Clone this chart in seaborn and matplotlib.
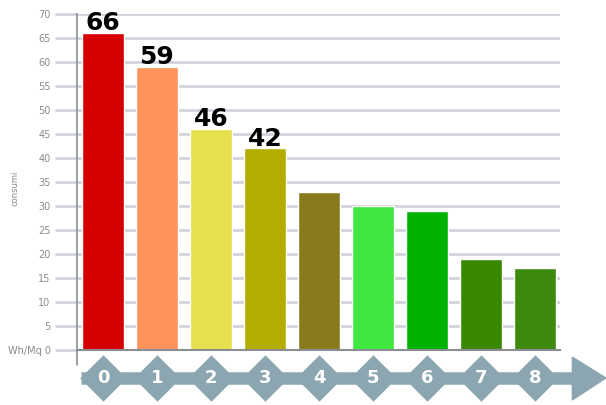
import matplotlib
matplotlib.use("Agg")
import matplotlib.pyplot as plt
from matplotlib.patches import Polygon
import seaborn as sns
import pandas as pd

categories = ["0", "1", "2", "3", "4", "5", "6", "7", "8"]
values = [66, 59, 46, 42, 33, 30, 29, 19, 17]
labelled = ["66", "59", "46", "42", "", "", "", "", ""]
colors = ["#d60000", "#ff935a", "#e6e04c", "#b3ad00", "#877b1e",
          "#3fe83f", "#00b300", "#3a8800", "#3e8a0e"]
yticks = [0, 5, 10, 15, 20, 25, 30, 35, 40, 45, 50, 55, 60, 65, 70]
ytick_labels = ["Wh/Mq 0"] + [str(v) for v in yticks[1:]]

sns.set_theme(style="white")
plt.rcParams['font.family'] = ['DejaVu Sans']

df = pd.DataFrame({"cat": categories, "val": values})
fig = plt.figure(figsize=(6.06, 4.05), dpi=100)
ax = fig.add_axes([0.127, 0.1358, 0.797, 0.8296])

sns.barplot(data=df, x="cat", y="val", hue="cat", palette=colors,
            legend=False, width=0.78, saturation=1, ax=ax, zorder=2)

ax.set_xlim(-0.48, 8.46)
ax.set_ylim(0, 70)
ax.set_yticks(yticks)
ax.set_yticklabels(ytick_labels)
ax.yaxis.grid(True, color="#d0d4da", linewidth=2)
ax.set_axisbelow(True)
ax.tick_params(axis="y", length=16, width=2, color="#d0d4da",
               labelsize=7, labelcolor="#8a8a8a", pad=3, left=True)
t0 = ax.yaxis.get_major_ticks()[0]
t0.tick1line.set_color("#8a8e94")
ax.tick_params(axis="x", length=0, labelbottom=False)
ax.set_xlabel("")
ax.set_ylabel("consumi", fontsize=6, color="#8a8a8a")
ax.yaxis.set_label_coords(-0.118, 0.48)
for s in ["top", "right"]:
    ax.spines[s].set_visible(False)
ax.spines["left"].set_color("#8a8e94")
ax.spines["left"].set_linewidth(1.2)
ax.spines["bottom"].set_color("#8a8e94")
ax.spines["bottom"].set_linewidth(1.5)
# extend left axis a bit below 0
ax.plot([-0.48, -0.48], [0, -3.2], color="#8a8e94", lw=1.2, clip_on=False)

# value labels
for i, (v, lab) in enumerate(zip(values, labelled)):
    if lab:
        ax.annotate(lab, (i, v), xytext=(0, 2), textcoords="offset points",
                    ha="center", va="baseline", fontsize=18,
                    fontweight="bold", color="black")

# bottom diamond arrow
arrow_c = "#8ba6b0"
yb = -5.83
ax.plot([-0.4, 8.8], [yb, yb], color=arrow_c, lw=9, clip_on=False,
        solid_capstyle="butt", zorder=1)
ax.scatter(range(len(categories)), [yb] * len(categories), marker="D",
           s=560, color=arrow_c, clip_on=False, zorder=1, linewidths=0)
ax.add_patch(Polygon([[8.69, -1.5], [9.31, yb], [8.69, -10.4]],
                     closed=True, color=arrow_c, clip_on=False, zorder=1))
for i, c in enumerate(categories):
    ax.text(i, yb, c, ha="center", va="center", color="white",
            fontsize=13, fontweight="bold", clip_on=False, zorder=5)

fig.savefig("out.png", dpi=100)
